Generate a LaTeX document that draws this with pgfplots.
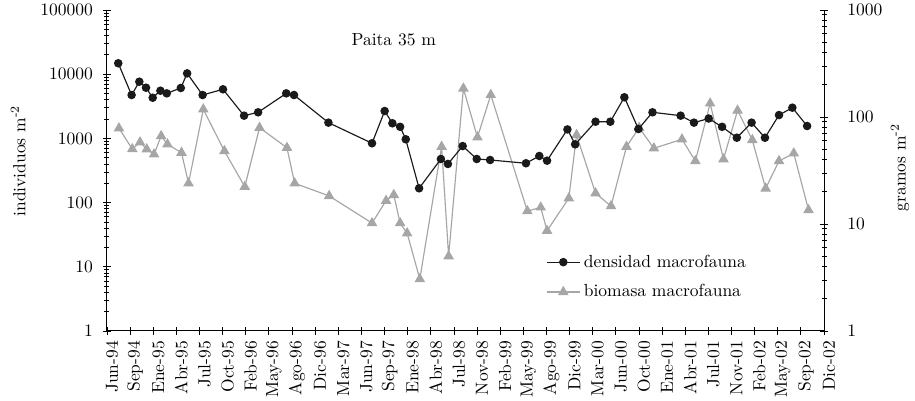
\documentclass[border=0pt]{standalone}
\usepackage{pgfplots}
\pgfplotsset{compat=1.18}
\definecolor{grayser}{HTML}{A6A6A6}
\definecolor{blackser}{HTML}{1A1A1A}
\newcommand{\fs}{\fontsize{10.5}{12.6}\selectfont}

\begin{document}
\begin{tikzpicture}
\begin{axis}[
  width=430.2pt, height=192.6pt, scale only axis,
  xmin=0, xmax=102, ymode=log,
  tick align=center, major tick length=5pt, minor tick length=3pt,
  tick style={black, line width=0.5pt},
  axis line style={line width=0.6pt},
  tick label style={font=\fs}, label style={font=\fs},
  ymin=1, ymax=1000,
  axis y line*=right, axis x line=none,
  ytick={1,10,100,1000}, yticklabels={1,10,100,1000},
  yticklabel style={anchor=west, xshift=8pt},
  ylabel={gramos m\textsuperscript{-2}},
  ylabel style={at={(axis description cs:1.106,0.51)}, anchor=center},
]
\addplot[grayser, line width=0.7pt, mark=triangle*, mark size=3pt,
  mark options={fill=grayser, draw=grayser}] coordinates {
(1.7,78.4)(3.6,50.2)(4.7,58)(5.65,50)(6.7,44.8)(7.7,66.4)(8.6,55.6)(10.6,46.4)
(11.6,24)(13.7,118)(16.7,48.1)(19.6,22.3)(21.7,79.4)(25.6,51.6)(26.7,24)(31.6,18.3)
(37.7,10.2)(39.7,16.5)(40.8,18.7)(41.7,10.2)(42.7,8.2)(44.5,3.06)(47.6,52.8)(48.6,5.0)
(50.7,185)(52.7,64.6)(54.6,161)(59.8,13.2)(61.7,14.3)(62.6,8.65)(65.7,17.4)(66.8,67.9)
(69.5,19.4)(71.7,14.7)(73.9,52.8)(75.7,79.4)(77.8,51)(81.8,61.9)(83.7,38.8)(85.8,134)
(87.7,40.3)(89.7,115)(91.8,61)(93.7,21.5)(95.6,38.8)(97.7,45.8)(99.8,13.5)
};
\end{axis}
\begin{axis}[
  width=430.2pt, height=192.6pt, scale only axis,
  xmin=0, xmax=102, ymode=log,
  tick align=center, major tick length=5pt, minor tick length=3pt,
  tick style={black, line width=0.5pt},
  axis line style={line width=0.6pt},
  tick label style={font=\fs}, label style={font=\fs},
  ymin=1, ymax=100000,
  axis y line*=left, axis x line*=bottom,
  ytick={1,10,100,1000,10000,100000},
  yticklabels={1,10,100,1000,10000,100000},
  yticklabel style={anchor=east, xshift=-2.5pt},
  ylabel={individuos m\textsuperscript{-2}},
  ylabel style={at={(axis description cs:-0.124,0.53)}, anchor=center},
  xtick={0,3.2903,6.5806,9.8710,13.1613,16.4516,19.7419,23.0323,26.3226,29.6129,32.9032,36.1935,39.4839,42.7742,46.0645,49.3548,52.6452,55.9355,59.2258,62.5161,65.8065,69.0968,72.3871,75.6774,78.9677,82.2581,85.5484,88.8387,92.1290,95.4194,98.7097,102},
  xticklabels={Jun-94,Sep-94,Ene-95,Abr-95,Jul-95,Oct-95,Feb-96,May-96,Ago-96,Dic-96,Mar-97,Jun-97,Sep-97,Ene-98,Abr-98,Jul-98,Nov-98,Feb-99,May-99,Ago-99,Dic-99,Mar-00,Jun-00,Oct-00,Ene-01,Abr-01,Jul-01,Nov-01,Feb-02,May-02,Sep-02,Dic-02},
  minor x tick num=1,
  xticklabel style={rotate=90, anchor=east, yshift=-3pt},
  legend cell align=left,
  legend style={draw=none, fill=none, at={(axis description cs:0.612,0.168)}, anchor=west,
    row sep=5pt, inner sep=0pt, font=\fs},
  legend image code/.code={\draw[mark repeat=2,mark phase=2,#1] plot coordinates {(0cm,0cm)(0.35cm,0cm)(0.7cm,0cm)};},
]
\addplot[blackser, line width=0.7pt, mark=*, mark size=2.2pt,
  mark options={fill=blackser, draw=blackser}] coordinates {
(1.6,14800)(3.5,4740)(4.6,7640)(5.55,6160)(6.5,4300)(7.6,5530)(8.5,5030)(10.5,6100)
(11.4,10300)(13.6,4740)(16.5,5820)(19.5,2260)(21.5,2550)(25.5,5030)(26.6,4740)(31.5,1760)
(37.7,840)(39.5,2670)(40.6,1720)(41.7,1515)(42.5,968)(44.4,167)(47.5,478)(48.5,400)
(50.6,760)(52.6,478)(54.5,461)(59.6,410)(61.5,532)(62.6,450)(65.5,1380)(66.6,808)
(69.5,1820)(71.6,1820)(73.6,4370)(75.6,1400)(77.6,2550)(81.6,2260)(83.5,1760)(85.6,2040)
(87.5,1515)(89.6,1025)(91.7,1760)(93.6,1025)(95.6,2310)(97.5,3010)(99.6,1560)
};
\addlegendentry{densidad macrofauna}
\addlegendimage{grayser, line width=0.7pt, mark=triangle*, mark size=3pt,
  mark options={fill=grayser, draw=grayser}}
\addlegendentry{biomasa macrofauna}
\node[font=\fs] at (axis description cs:0.40,0.907) {Paita 35 m};
\end{axis}
\pgfresetboundingbox
\path[use as bounding box] (-64.2pt,-42pt) rectangle (484.8pt,198.6pt);
\end{tikzpicture}
\end{document}
